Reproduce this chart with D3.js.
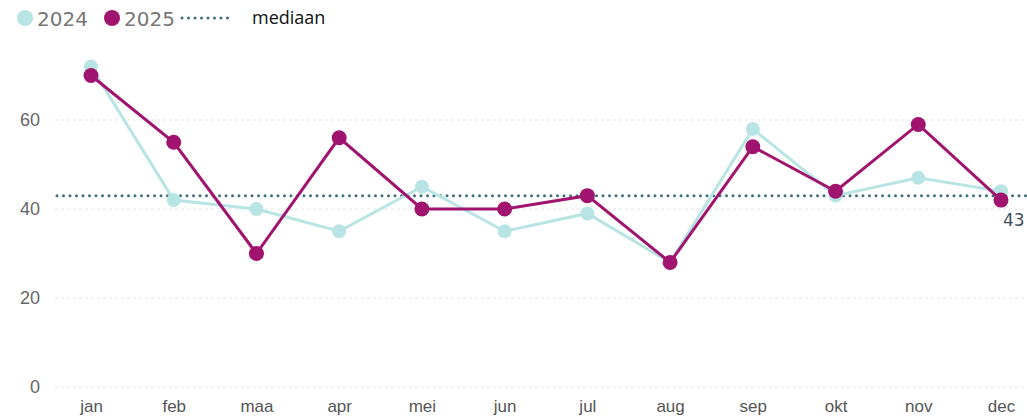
<!DOCTYPE html>
<html>
<head>
<meta charset="utf-8">
<script src="https://cdn.jsdelivr.net/npm/d3@7"></script>
<style>
  body { margin: 0; background: #fff; }
  svg { display: block; font-family: "DejaVu Sans", sans-serif; }
</style>
</head>
<body>
<svg id="chart"></svg>
<script>
const months = ["jan", "feb", "maa", "apr", "mei", "jun", "jul", "aug", "sep", "okt", "nov", "dec"];
const values2024 = [72, 42, 40, 35, 45, 35, 39, 28, 58, 43, 47, 44];
const values2025 = [70, 55, 30, 56, 40, 40, 43, 28, 54, 44, 59, 42];
const median = 43;
const yTicks = [0, 20, 40, 60];

const width = 1027, height = 419;

const svg = d3.select("#chart").attr("width", width).attr("height", height);

const xScale = d3.scalePoint().domain(months).range([91, 1001]);
const yScale = d3.scaleLinear().domain([0, 60]).range([387, 120]);

// gridlines
svg.append("g")
  .selectAll("line")
  .data(yTicks)
  .enter()
  .append("line")
  .attr("x1", 55)
  .attr("x2", width)
  .attr("y1", (d) => yScale(d))
  .attr("y2", (d) => yScale(d))
  .attr("stroke", "#e4e4e4")
  .attr("stroke-width", 1)
  .attr("stroke-dasharray", "3,3");

// y axis labels
const yAxis = d3.axisLeft(yScale).tickValues(yTicks).tickSize(0).tickPadding(0);
const yAxisG = svg.append("g").attr("transform", "translate(40,0)").call(yAxis);
yAxisG.select(".domain").remove();
yAxisG.selectAll("text")
  .attr("fill", "#666")
  .style("font-size", "18px");

// x axis labels
const xAxis = d3.axisBottom(xScale).tickSize(0).tickPadding(0);
const xAxisG = svg.append("g").attr("transform", "translate(0,400)").call(xAxis);
xAxisG.select(".domain").remove();
xAxisG.selectAll("text")
  .attr("fill", "#555")
  .style("font-size", "17px");

// median line
svg.append("line")
  .attr("x1", 57)
  .attr("x2", width)
  .attr("y1", yScale(median))
  .attr("y2", yScale(median))
  .attr("stroke", "#3d6e7c")
  .attr("stroke-width", 3)
  .attr("stroke-linecap", "round")
  .attr("stroke-dasharray", "0,6.5");

svg.append("text")
  .attr("x", 1003)
  .attr("y", yScale(median) + 30)
  .attr("fill", "#3a4f5a")
  .style("font-size", "17px")
  .text(median);

const line = d3.line()
  .x((d, i) => xScale(months[i]))
  .y((d) => yScale(d));

const series = [
  { name: "2024", values: values2024, color: "#b8e4e4", width: 3, r: 7 },
  { name: "2025", values: values2025, color: "#a0146f", width: 3, r: 7.5 }
];

series.forEach((s) => {
  svg.append("path")
    .datum(s.values)
    .attr("fill", "none")
    .attr("stroke", s.color)
    .attr("stroke-width", s.width)
    .attr("d", line);
  svg.append("g")
    .selectAll("circle")
    .data(s.values)
    .enter()
    .append("circle")
    .attr("cx", (d, i) => xScale(months[i]))
    .attr("cy", (d) => yScale(d))
    .attr("r", s.r)
    .attr("fill", s.color);
});

// legend
const legend = svg.append("g");
series.forEach((s, i) => {
  const lx = i === 0 ? 25 : 112;
  legend.append("circle")
    .attr("cx", lx)
    .attr("cy", 18)
    .attr("r", 8)
    .attr("fill", s.color);
  legend.append("text")
    .attr("x", lx + 12)
    .attr("y", 26)
    .attr("fill", "#777")
    .style("font-size", "20px")
    .text(s.name);
});
legend.append("line")
  .attr("x1", 182)
  .attr("x2", 232)
  .attr("y1", 18)
  .attr("y2", 18)
  .attr("stroke", "#3d6e7c")
  .attr("stroke-width", 3)
  .attr("stroke-linecap", "round")
  .attr("stroke-dasharray", "0,6.5");
legend.append("text")
  .attr("x", 252)
  .attr("y", 24)
  .attr("fill", "#111")
  .style("font-family", "'Open Sans', sans-serif")
  .style("font-size", "18px")
  .text("mediaan");
</script>
</body>
</html>
